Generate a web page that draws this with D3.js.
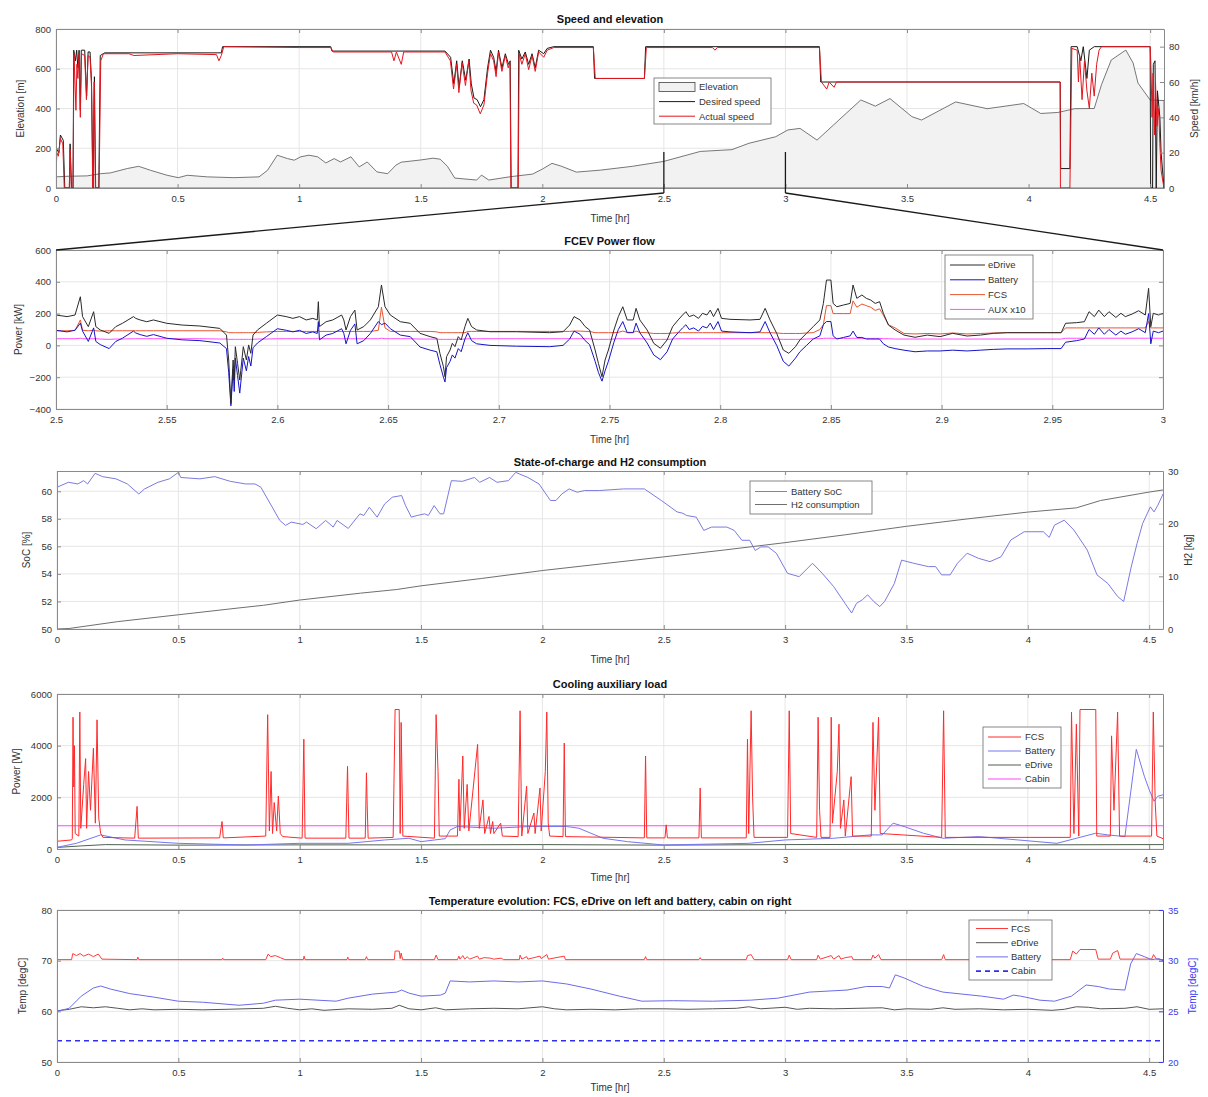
<!DOCTYPE html>
<html>
<head>
<meta charset="utf-8">
<script src="https://cdn.jsdelivr.net/npm/d3@7"></script>
<style>
  body { margin: 0; background: #fff; }
  svg { display: block; font-family: "Liberation Sans", Arial, sans-serif; }
</style>
</head>
<body>
<svg id="chart" width="1208" height="1097"></svg>
<script>
// ---------------- Data ----------------
const timeTicks = [0, 0.5, 1, 1.5, 2, 2.5, 3, 3.5, 4, 4.5];
const zoomTicks = [2.5, 2.55, 2.6, 2.65, 2.7, 2.75, 2.8, 2.85, 2.9, 2.95, 3];
const elevationTicks = [0, 200, 400, 600, 800];
const speedTicks = [0, 20, 40, 60, 80];
const powerTicks = [-400, -200, 0, 200, 400, 600];
const socTicks = [50, 52, 54, 56, 58, 60];
const h2Ticks = [0, 10, 20, 30];
const coolTicks = [0, 2000, 4000, 6000];
const tempLeftTicks = [50, 60, 70, 80];
const tempRightTicks = [20, 25, 30, 35];

// Elevation [m] along the route, [time hr, m]
const elevation = [[0,56],[0.045,59],[0.128,61],[0.183,72],[0.224,76],[0.293,98],[0.34,109],[0.389,89],[0.457,64],[0.503,52],[0.54,64],[0.622,56],[0.732,52],[0.835,56],[0.87,89],[0.91,165],[0.952,148],[0.98,140],[1.007,157],[1.04,165],[1.076,157],[1.11,126],[1.144,148],[1.17,131],[1.213,157],[1.247,106],[1.28,131],[1.32,81],[1.364,72],[1.398,115],[1.42,130],[1.5,141],[1.55,150],[1.58,145],[1.61,109],[1.64,50],[1.73,40],[1.75,65],[1.78,40],[1.87,57],[1.96,70],[2.0,95],[2.04,124],[2.08,109],[2.14,80],[2.24,90],[2.37,109],[2.5,134],[2.65,184],[2.78,193],[2.85,225],[2.96,258],[3.01,292],[3.06,300],[3.13,241],[3.22,342],[3.31,443],[3.37,412],[3.43,450],[3.52,359],[3.56,342],[3.7,433],[3.83,399],[3.98,425],[4.05,375],[4.12,380],[4.19,399],[4.27,400],[4.3,520],[4.34,644],[4.4,694],[4.43,629],[4.45,528],[4.5,443],[4.557,440]];

// Desired speed [km/h]
const desiredSpeed = [[0,0],[0.003,22],[0.012,20],[0.018,30],[0.03,27],[0.036,0],[0.055,0],[0.058,25],[0.064,0],[0.07,0],[0.073,78],[0.08,72],[0.085,78],[0.09,68],[0.095,78],[0.1,44],[0.104,78],[0.118,78],[0.126,52],[0.132,77],[0.14,77],[0.146,61],[0.152,0],[0.158,63],[0.163,0],[0.176,0],[0.182,75],[0.2,76.5],[0.68,76.5],[0.685,80],[1.13,80],[1.135,77.5],[1.6,77.5],[1.623,74],[1.636,59],[1.648,72],[1.658,57],[1.671,72],[1.685,61],[1.699,73],[1.708,59],[1.719,51],[1.732,50],[1.746,46],[1.76,50],[1.775,68],[1.787,78],[1.8,74],[1.81,66],[1.82,78],[1.834,68],[1.848,76],[1.861,70],[1.868,72],[1.872,0],[1.9,0],[1.903,78],[1.916,73],[1.93,77],[1.944,70],[1.958,76],[1.971,68],[1.985,78],[2.006,76],[2.02,79],[2.047,80],[2.21,80],[2.215,62],[2.42,62],[2.425,80],[3.14,80],[3.145,60],[4.13,60],[4.132,11],[4.17,11],[4.175,80],[4.2,80],[4.215,72],[4.225,80],[4.24,62],[4.25,78],[4.27,80],[4.5,80],[4.502,0],[4.51,0],[4.513,70],[4.52,72],[4.525,0],[4.53,55],[4.54,40],[4.545,20],[4.557,0]];

// Actual speed [km/h]
const actualSpeed = [[0,0],[0.003,20],[0.01,18],[0.018,28],[0.028,25],[0.034,0],[0.055,0],[0.058,22],[0.063,0],[0.07,0],[0.074,76],[0.078,60],[0.082,44],[0.086,70],[0.09,62],[0.095,76],[0.1,40],[0.105,76],[0.118,75],[0.125,50],[0.132,75],[0.14,74],[0.146,58],[0.151,0],[0.157,60],[0.162,0],[0.177,0],[0.184,72],[0.195,76],[0.3,76],[0.32,75],[0.5,76],[0.66,75.5],[0.67,72],[0.68,75],[0.69,80],[1.0,79.5],[1.13,79.5],[1.14,77],[1.38,77],[1.39,72],[1.4,77],[1.42,70],[1.43,77],[1.6,77],[1.622,72],[1.635,56],[1.648,70],[1.657,54],[1.67,71],[1.684,58],[1.698,72],[1.707,55],[1.718,48],[1.73,47],[1.745,42],[1.76,47],[1.775,65],[1.787,76],[1.8,72],[1.81,63],[1.82,77],[1.834,66],[1.848,75],[1.86,68],[1.867,71],[1.871,0],[1.901,0],[1.905,76],[1.916,70],[1.93,76],[1.944,67],[1.958,75],[1.971,66],[1.985,77],[2.006,74],[2.02,78],[2.047,79.5],[2.21,79.5],[2.218,62],[2.42,62],[2.428,79.5],[2.7,79.5],[2.71,78],[2.72,79.5],[3.14,79.5],[3.148,60],[3.17,56],[3.18,60],[3.2,57],[3.21,60],[4.13,60],[4.131,0],[4.17,0],[4.178,79],[4.2,78],[4.205,60],[4.21,75],[4.22,50],[4.23,72],[4.24,55],[4.25,45],[4.26,65],[4.27,52],[4.28,70],[4.29,78],[4.3,80],[4.5,80],[4.503,70],[4.508,40],[4.512,65],[4.518,30],[4.522,60],[4.528,35],[4.535,45],[4.54,25],[4.545,10],[4.557,0]];

// Power flow detail, 2.5 - 3.0 hr [kW]
const powerTime = [2.5,2.505,2.5086,2.511,2.512,2.5146,2.517,2.518,2.52,2.524,2.527,2.53,2.535,2.536,2.538,2.541,2.544,2.55,2.557,2.565,2.574,2.577,2.578,2.579,2.58,2.5805,2.581,2.582,2.583,2.5846,2.586,2.587,2.588,2.589,2.591,2.595,2.6,2.604,2.607,2.61,2.613,2.616,2.618,2.6185,2.619,2.622,2.625,2.629,2.63,2.631,2.633,2.635,2.636,2.639,2.642,2.6456,2.647,2.6486,2.651,2.6555,2.66,2.6644,2.669,2.672,2.6734,2.675,2.6757,2.6764,2.678,2.679,2.6802,2.6817,2.683,2.6847,2.686,2.6877,2.69,2.696,2.708,2.723,2.729,2.732,2.734,2.7367,2.739,2.741,2.7435,2.745,2.7466,2.748,2.7495,2.752,2.754,2.756,2.758,2.7607,2.762,2.7637,2.767,2.77,2.773,2.776,2.7785,2.781,2.783,2.7845,2.786,2.788,2.7902,2.792,2.794,2.7955,2.797,2.799,2.8006,2.8044,2.8135,2.818,2.8203,2.8225,2.8255,2.8285,2.831,2.834,2.836,2.839,2.842,2.845,2.8466,2.848,2.85,2.851,2.8527,2.8557,2.8587,2.86,2.8617,2.864,2.866,2.868,2.87,2.872,2.8737,2.876,2.879,2.883,2.888,2.8935,2.8993,2.905,2.9115,2.9175,2.9235,2.9296,2.939,2.948,2.954,2.956,2.961,2.9645,2.9666,2.969,2.971,2.9735,2.9756,2.9787,2.981,2.983,2.986,2.989,2.992,2.9935,2.9945,2.9956,2.998,3.0];
const eDrivePower = [191,181,191,306,181,118,212,118,97,76,118,139,181,170,160,149,160,139,128,122,107,65,-92,-365,-92,-218,-8,-113,-218,-8,-92,3,-50,65,97,139,191,181,170,181,160,170,160,275,118,149,160,191,160,97,181,222,97,118,160,243,380,243,191,149,139,76,55,44,-50,-134,-197,-71,-29,13,-8,55,34,118,170,118,97,86,86,80,86,128,181,160,118,97,-29,-113,-197,-92,-29,97,181,243,160,160,233,160,97,13,-18,34,118,160,191,212,181,191,170,202,191,222,181,233,170,164,160,164,233,160,76,-29,-50,-8,34,76,118,160,264,411,411,264,243,254,264,380,296,317,296,285,264,275,202,128,97,65,51,65,55,76,59,65,76,80,80,80,80,139,143,149,212,181,222,181,212,176,202,181,197,218,191,359,118,202,191,202];
const batteryPower = [95,85,95,140,90,25,110,25,5,-20,25,45,90,78,68,57,68,45,35,30,15,-20,-170,-380,-150,-290,-80,-190,-300,-80,-160,-70,-130,-15,15,55,105,95,85,95,75,85,75,150,35,65,75,105,75,10,95,135,10,30,75,150,130,140,105,65,55,-10,-30,-40,-120,-200,-230,-140,-100,-60,-80,-20,-40,40,80,30,10,0,-5,-8,0,40,90,70,30,5,-100,-170,-225,-160,-100,20,100,150,80,80,140,80,15,-60,-90,-40,40,80,110,130,100,110,90,120,110,140,100,150,90,85,80,85,150,80,0,-100,-130,-80,-40,0,40,60,130,150,150,60,40,50,60,90,50,50,40,40,40,40,10,-10,-20,-30,-40,-35,-35,-30,-35,-30,-25,-22,-22,-20,-20,20,30,40,100,70,110,70,100,65,90,70,85,105,80,200,10,90,80,90];
const fcsPower = [92,92,95,160,95,92,95,92,90,92,92,92,92,92,92,92,92,92,92,92,92,85,80,80,80,80,80,80,80,80,80,80,80,80,82,85,88,88,88,88,88,88,88,95,88,88,88,88,88,88,88,88,88,88,88,95,240,110,88,88,88,88,88,85,80,80,80,80,80,80,80,80,80,80,88,88,88,88,88,88,88,88,90,90,88,88,80,80,80,80,80,80,82,90,82,82,90,82,80,75,75,75,78,80,80,80,80,80,80,80,80,80,80,80,80,80,80,80,80,80,78,75,75,75,75,78,80,100,130,250,250,200,200,200,200,280,240,260,250,240,220,230,190,130,110,75,72,75,72,78,72,75,78,80,80,80,80,110,110,110,110,110,110,110,110,110,110,110,110,110,110,150,110,110,110,110];
const auxPower = [42,42,42,45,42,42,42,42,40,38,40,40,42,42,42,42,42,42,42,42,40,40,38,38,38,38,38,38,38,38,38,38,38,38,40,40,42,42,42,42,42,42,42,45,42,42,42,42,42,42,42,42,42,42,42,42,45,42,42,42,42,40,40,40,38,38,38,38,38,38,38,38,38,40,42,42,42,42,42,42,42,42,42,42,42,42,38,38,38,38,38,40,42,42,42,42,42,42,40,38,38,38,40,42,42,42,42,42,42,42,42,42,42,42,42,42,42,42,42,42,40,38,38,38,38,40,42,42,44,45,45,44,44,44,44,45,44,44,44,44,44,44,42,42,40,40,40,40,40,40,40,40,40,40,40,40,40,45,45,45,45,45,45,45,45,45,45,45,45,45,45,45,45,45,45,45];

// Battery state of charge [%] and cumulative H2 [kg]
const socData = [[0,60.29],[0.047,60.65],[0.086,60.53],[0.11,60.77],[0.126,60.53],[0.157,61.3],[0.188,61.06],[0.243,60.9],[0.29,60.53],[0.337,59.8],[0.361,60.17],[0.416,60.65],[0.463,60.9],[0.5,61.37],[0.51,61.0],[0.589,60.9],[0.65,61.06],[0.714,60.72],[0.777,60.53],[0.816,60.53],[0.84,60.29],[0.918,57.88],[0.942,57.52],[0.965,57.76],[1.013,57.59],[1.028,57.76],[1.068,57.28],[1.107,57.88],[1.138,57.4],[1.154,57.88],[1.2,57.3],[1.248,58.36],[1.264,58.24],[1.287,58.84],[1.319,58.12],[1.35,59.08],[1.382,59.57],[1.42,59.69],[1.436,58.96],[1.46,58.12],[1.484,58.24],[1.515,58.36],[1.53,58.24],[1.554,58.96],[1.578,58.36],[1.593,58.36],[1.625,60.77],[1.67,60.72],[1.72,61.0],[1.742,60.65],[1.782,61.0],[1.813,60.65],[1.86,60.77],[1.89,61.37],[1.94,61.0],[1.986,60.53],[2.033,59.33],[2.056,59.33],[2.08,59.8],[2.11,60.17],[2.143,59.93],[2.174,60.05],[2.234,60.05],[2.335,60.17],[2.42,60.17],[2.49,59.33],[2.555,58.5],[2.579,58.4],[2.594,58.24],[2.634,58.12],[2.665,57.16],[2.697,57.4],[2.76,57.4],[2.79,57.16],[2.822,56.44],[2.854,56.44],[2.877,55.7],[2.9,55.96],[2.93,55.96],[2.964,55.5],[3.01,54.04],[3.058,53.8],[3.113,54.77],[3.153,54.04],[3.2,53.08],[3.247,51.86],[3.274,51.16],[3.294,51.86],[3.318,52.12],[3.34,52.48],[3.365,52.0],[3.39,51.63],[3.41,52.0],[3.45,53.3],[3.48,55.0],[3.53,54.77],[3.59,54.53],[3.62,54.53],[3.645,53.93],[3.68,53.93],[3.71,54.77],[3.75,55.5],[3.797,55.13],[3.844,54.89],[3.89,55.25],[3.93,56.46],[3.985,57.06],[4.064,57.06],[4.088,56.65],[4.11,57.54],[4.15,57.9],[4.19,57.18],[4.245,55.73],[4.285,53.93],[4.33,53.3],[4.37,52.36],[4.395,52.0],[4.426,54.5],[4.45,56.2],[4.473,57.66],[4.505,58.87],[4.52,58.5],[4.536,58.99],[4.557,59.8]];
const h2Data = [[0,0],[0.05,0.1],[0.25,1.4],[0.5,2.7],[0.75,4.0],[0.85,4.5],[1.0,5.5],[1.25,6.8],[1.4,7.5],[1.5,8.2],[1.75,9.6],[2.0,11.1],[2.25,12.4],[2.5,13.7],[2.75,15.0],[3.0,16.4],[3.25,17.9],[3.5,19.5],[3.75,20.9],[4.0,22.2],[4.2,23.0],[4.3,24.4],[4.5,26.0],[4.557,26.4]];

// Cooling auxiliary loads [W]
const fcsCooling = [[0,300],[0.06,350],[0.063,400],[0.066,5100],[0.069,2400],[0.072,4000],[0.075,600],[0.09,500],[0.094,5300],[0.098,800],[0.11,2500],[0.118,3500],[0.122,800],[0.13,3000],[0.138,1500],[0.15,3900],[0.158,1000],[0.165,5000],[0.172,1200],[0.18,600],[0.19,450],[0.32,420],[0.33,1650],[0.335,420],[0.67,430],[0.68,1065],[0.685,430],[0.86,500],[0.868,5200],[0.875,700],[0.882,3000],[0.888,600],[0.895,1800],[0.905,700],[0.912,2050],[0.92,600],[0.93,480],[1.01,420],[1.017,4250],[1.022,420],[1.19,420],[1.197,3200],[1.2,1800],[1.203,420],[1.27,420],[1.275,2950],[1.278,1700],[1.282,420],[1.385,450],[1.393,5400],[1.41,5400],[1.414,600],[1.418,4900],[1.425,500],[1.555,420],[1.562,5200],[1.57,3000],[1.575,500],[1.65,500],[1.656,2700],[1.66,700],[1.672,3600],[1.678,800],[1.69,2500],[1.697,700],[1.733,4050],[1.74,800],[1.755,1900],[1.762,600],[1.78,1260],[1.786,600],[1.795,1065],[1.8,600],[1.828,1000],[1.835,500],[1.9,480],[1.908,5350],[1.915,500],[1.935,2430],[1.94,600],[1.965,1390],[1.97,600],[1.99,2360],[1.995,700],[2.012,3000],[2.018,5300],[2.024,1000],[2.03,500],[2.085,480],[2.09,4100],[2.095,480],[2.42,430],[2.425,3600],[2.43,430],[2.505,430],[2.51,935],[2.515,430],[2.645,430],[2.65,2360],[2.655,430],[2.84,430],[2.845,4250],[2.85,600],[2.86,5350],[2.866,2000],[2.872,450],[3.01,450],[3.017,5350],[3.023,600],[3.13,450],[3.136,5100],[3.142,1500],[3.148,450],[3.185,450],[3.19,5100],[3.195,1000],[3.215,3000],[3.222,4830],[3.228,800],[3.242,1900],[3.248,500],[3.272,2800],[3.278,500],[3.355,500],[3.362,4900],[3.37,1500],[3.385,5100],[3.392,600],[3.645,450],[3.653,5350],[3.66,450],[4.175,450],[4.18,5300],[4.19,600],[4.2,4830],[4.21,500],[4.215,5400],[4.28,5400],[4.284,500],[4.34,500],[4.345,4380],[4.355,1500],[4.37,5300],[4.378,500],[4.51,500],[4.517,5300],[4.525,1780],[4.532,500],[4.557,400]];
const batteryCooling = [[0,65],[0.08,220],[0.18,545],[0.28,350],[0.5,220],[0.78,155],[1.0,220],[1.2,220],[1.35,350],[1.45,415],[1.5,285],[1.6,400],[1.62,740],[1.65,870],[1.8,805],[1.95,870],[2.1,870],[2.15,805],[2.2,610],[2.25,415],[2.35,285],[2.5,155],[2.85,220],[3.0,350],[3.2,415],[3.35,545],[3.4,545],[3.445,1000],[3.49,870],[3.57,610],[3.65,415],[3.8,480],[3.96,350],[4.12,220],[4.2,415],[4.28,610],[4.33,545],[4.4,480],[4.447,3860],[4.48,2820],[4.5,2300],[4.52,1850],[4.535,2040],[4.557,2100]];
const eDriveCooling = [[0,60],[0.1,120],[0.2,170],[0.5,150],[1,160],[1.5,160],[2,170],[2.5,150],[3,170],[3.5,180],[4,160],[4.5,170],[4.557,170]];
const cabinCooling = [[0,900],[4.557,900]];

// Temperatures [degC]
const fcsTemp = [[0,70.2],[0.06,70.2],[0.065,71.4],[0.08,71.0],[0.095,71.4],[0.11,70.9],[0.13,71.3],[0.15,70.8],[0.17,71.3],[0.185,70.3],[0.33,70.2],[0.333,70.7],[0.337,70.2],[0.68,70.2],[0.683,70.5],[0.686,70.2],[0.86,70.2],[0.87,71.3],[0.88,70.8],[0.9,71.0],[0.92,70.6],[0.94,70.2],[1.015,70.2],[1.018,70.9],[1.022,70.2],[1.195,70.2],[1.198,70.7],[1.202,70.2],[1.27,70.2],[1.275,70.8],[1.28,70.2],[1.39,70.2],[1.393,71.9],[1.41,71.9],[1.414,70.4],[1.418,71.5],[1.424,70.2],[1.555,70.2],[1.562,71.1],[1.57,70.2],[1.65,70.2],[1.656,70.9],[1.66,70.3],[1.672,71.0],[1.68,70.3],[1.69,70.8],[1.7,70.3],[1.733,70.9],[1.74,70.3],[1.76,70.6],[1.785,70.5],[1.8,70.3],[1.83,70.5],[1.84,70.2],[1.905,70.2],[1.908,71.1],[1.915,70.3],[1.935,70.8],[1.94,70.3],[1.965,70.6],[1.99,70.9],[1.995,70.4],[2.018,71.2],[2.025,70.3],[2.09,70.9],[2.095,70.2],[2.42,70.2],[2.425,70.8],[2.43,70.2],[2.645,70.2],[2.65,70.6],[2.655,70.2],[2.84,70.2],[2.845,71.0],[2.86,71.2],[2.872,70.2],[3.01,70.2],[3.017,71.1],[3.025,70.2],[3.13,70.2],[3.136,71.1],[3.145,70.3],[3.19,71.0],[3.2,70.3],[3.222,71.0],[3.23,70.3],[3.248,70.6],[3.275,70.8],[3.28,70.2],[3.355,70.2],[3.362,71.1],[3.37,70.5],[3.385,71.2],[3.395,70.2],[3.645,70.2],[3.653,71.2],[3.66,70.2],[4.175,70.2],[4.185,71.9],[4.2,71.3],[4.215,72.2],[4.28,72.2],[4.29,70.3],[4.34,70.3],[4.35,71.5],[4.37,72.0],[4.38,70.3],[4.51,70.3],[4.518,71.2],[4.53,70.3],[4.557,70.2]];
const eDriveTemp = [[0,60.1],[0.05,60.4],[0.1,60.9],[0.15,60.7],[0.2,60.9],[0.25,60.6],[0.3,60.3],[0.35,60.5],[0.4,60.3],[0.5,60.4],[0.6,60.3],[0.7,60.4],[0.85,60.6],[0.9,61.0],[0.95,60.6],[1.0,60.3],[1.05,60.5],[1.1,60.2],[1.2,60.5],[1.3,60.4],[1.38,60.6],[1.41,61.2],[1.45,60.5],[1.5,60.3],[1.56,60.7],[1.6,60.3],[1.7,60.5],[1.8,60.6],[1.9,60.5],[2.0,60.9],[2.05,60.5],[2.1,60.3],[2.2,60.4],[2.3,60.3],[2.4,60.5],[2.5,60.5],[2.6,60.4],[2.7,60.5],[2.8,60.6],[2.85,60.9],[2.9,60.5],[3.0,60.8],[3.05,60.4],[3.1,60.6],[3.2,60.5],[3.3,60.6],[3.4,60.7],[3.45,60.3],[3.5,60.5],[3.6,60.4],[3.65,60.7],[3.7,60.4],[3.8,60.5],[3.9,60.3],[4.0,60.4],[4.1,60.2],[4.15,60.4],[4.2,60.9],[4.25,60.8],[4.3,60.5],[4.4,60.6],[4.45,60.9],[4.5,60.4],[4.557,60.5]];
const batteryTemp = [[0,25.0],[0.05,25.3],[0.1,26.5],[0.15,27.3],[0.18,27.5],[0.22,27.2],[0.3,26.75],[0.4,26.4],[0.5,26.0],[0.6,25.9],[0.75,25.6],[0.85,25.8],[0.9,26.1],[1.0,26.2],[1.15,26.0],[1.2,26.3],[1.3,26.7],[1.4,26.9],[1.42,27.1],[1.45,26.8],[1.5,26.5],[1.58,26.6],[1.6,26.8],[1.62,28.0],[1.7,27.9],[1.8,28.0],[1.9,27.9],[2.0,28.0],[2.1,27.7],[2.2,27.2],[2.317,26.5],[2.41,26.0],[2.54,26.05],[2.7,26.0],[2.857,26.1],[2.97,26.3],[3.1,26.9],[3.255,27.1],[3.335,27.45],[3.4,27.45],[3.43,27.3],[3.454,28.6],[3.49,28.3],[3.57,27.45],[3.65,26.9],[3.81,26.5],[3.9,26.2],[3.94,26.6],[3.97,26.5],[4.05,26.1],[4.11,26.0],[4.18,26.5],[4.24,27.6],[4.29,27.45],[4.336,27.2],[4.4,27.1],[4.424,29.7],[4.447,30.7],[4.48,30.4],[4.51,30.1],[4.54,30.2],[4.557,30.0]];
const cabinTemp = [[0,22.1],[4.557,22.1]];

const zoomWindow = [2.5, 3.0];

// ---------------- Drawing ----------------
const svg = d3.select('#chart');
const defs = svg.append('defs');
const FONT_TICK = 9.5;
const TEXT = '#333';
const AXIS = '#8a8a8a';
const GRID = '#e6e6e6';

function panel(o) {
  const g = svg.append('g');
  const x = d3.scaleLinear().domain(o.xDomain).range([o.left, o.right]);
  const y = d3.scaleLinear().domain(o.yDomain).range([o.bottom, o.top]);
  const y2 = o.y2Domain ? d3.scaleLinear().domain(o.y2Domain).range([o.bottom, o.top]) : null;

  // grid
  const grid = g.append('g').attr('stroke', GRID).attr('stroke-width', 1);
  grid.selectAll('.gx').data(o.xTicks).join('line')
    .attr('x1', d => x(d)).attr('x2', d => x(d)).attr('y1', o.top).attr('y2', o.bottom);
  grid.selectAll('.gy').data(o.yTicks).join('line')
    .attr('x1', o.left).attr('x2', o.right).attr('y1', d => y(d)).attr('y2', d => y(d));

  // clip
  defs.append('clipPath').attr('id', 'clip-' + o.id)
    .append('rect').attr('x', o.left).attr('y', o.top)
    .attr('width', o.right - o.left).attr('height', o.bottom - o.top);
  const plot = g.append('g').attr('clip-path', `url(#clip-${o.id})`);

  const axes = svg.append('g'); // drawn on top of data
  function styleAxis(sel, color) {
    sel.selectAll('.domain').attr('stroke', color || AXIS);
    sel.selectAll('.tick line').attr('stroke', color || AXIS);
    sel.selectAll('.tick text').attr('fill', color || TEXT).attr('font-size', FONT_TICK)
      .attr('font-family', '"Liberation Sans", Arial, sans-serif');
  }
  const fmt = d3.format('~g');
  const bx = axes.append('g').attr('transform', `translate(0,${o.bottom})`)
    .call(d3.axisBottom(x).tickValues(o.xTicks).tickFormat(fmt).tickSizeInner(-4).tickSizeOuter(0).tickPadding(7));
  styleAxis(bx);
  const tx = axes.append('g').attr('transform', `translate(0,${o.top})`)
    .call(d3.axisTop(x).tickValues(o.xTicks).tickFormat('').tickSizeInner(-4).tickSizeOuter(0));
  styleAxis(tx);
  const ly = axes.append('g').attr('transform', `translate(${o.left},0)`)
    .call(d3.axisLeft(y).tickValues(o.yTicks).tickFormat(fmt).tickSizeInner(-4).tickSizeOuter(0).tickPadding(5));
  styleAxis(ly);
  if (y2) {
    const ry = axes.append('g').attr('transform', `translate(${o.right},0)`)
      .call(d3.axisRight(y2).tickValues(o.y2Ticks).tickFormat(fmt).tickSizeInner(-4).tickSizeOuter(0).tickPadding(5));
    styleAxis(ry, o.y2Color);
  } else {
    const ry = axes.append('g').attr('transform', `translate(${o.right},0)`)
      .call(d3.axisRight(y).tickValues(o.yTicks).tickFormat('').tickSizeInner(-4).tickSizeOuter(0));
    styleAxis(ry);
  }

  // title and labels
  axes.append('text').attr('x', (o.left + o.right) / 2).attr('y', o.titleY)
    .attr('text-anchor', 'middle').attr('font-size', 11).attr('font-weight', 'bold')
    .attr('fill', '#111').text(o.title);
  axes.append('text').attr('x', (o.left + o.right) / 2).attr('y', o.xLabelY)
    .attr('text-anchor', 'middle').attr('font-size', 10).attr('fill', TEXT).text('Time [hr]');
  axes.append('text').attr('transform', `translate(${o.yLabelX},${(o.top + o.bottom) / 2}) rotate(-90)`)
    .attr('text-anchor', 'middle').attr('font-size', 10).attr('fill', TEXT).text(o.yLabel);
  if (o.y2Label) {
    axes.append('text').attr('transform', `translate(${o.y2LabelX},${(o.top + o.bottom) / 2}) rotate(-90)`)
      .attr('text-anchor', 'middle').attr('font-size', 10).attr('fill', o.y2Color || TEXT).text(o.y2Label);
  }
  return { g, plot, axes, x, y, y2, o };
}

function drawLine(p, data, scaleY, color, width, dash) {
  const line = d3.line().x(d => p.x(d[0])).y(d => scaleY(d[1]));
  const path = p.plot.append('path').datum(data).attr('d', line)
    .attr('fill', 'none').attr('stroke', color).attr('stroke-width', width || 1)
    .attr('stroke-linejoin', 'round');
  if (dash) path.attr('stroke-dasharray', dash);
  return path;
}

function legend(p, box, items) {
  const lg = p.axes.append('g');
  lg.append('rect').attr('x', box.x).attr('y', box.y).attr('width', box.w).attr('height', box.h)
    .attr('fill', '#fff').attr('stroke', '#6a6a6a').attr('stroke-width', 0.8);
  items.forEach((it, i) => {
    const cy = box.row0 + i * box.step;
    if (it.patch) {
      lg.append('rect').attr('x', box.lx1).attr('y', cy - 4.5).attr('width', box.lx2 - box.lx1).attr('height', 9)
        .attr('fill', '#f1f1f1').attr('stroke', '#444').attr('stroke-width', 0.8);
    } else {
      const l = lg.append('line').attr('x1', box.lx1).attr('x2', box.lx2).attr('y1', cy).attr('y2', cy)
        .attr('stroke', it.color).attr('stroke-width', it.width || 1);
      if (it.dash) l.attr('stroke-dasharray', it.dash);
    }
    lg.append('text').attr('x', box.tx).attr('y', cy).attr('dy', '0.35em')
      .attr('font-size', 9.5).attr('fill', TEXT).text(it.label);
  });
}

// Panel 1: speed and elevation
const p1 = panel({
  id: 'speed', left: 56, right: 1164, top: 29, bottom: 188,
  xDomain: [0, 4.557], yDomain: [0, 800], y2Domain: [0, 90],
  xTicks: timeTicks, yTicks: elevationTicks, y2Ticks: speedTicks,
  title: 'Speed and elevation', titleY: 23, xLabelY: 222,
  yLabel: 'Elevation [m]', yLabelX: 24, y2Label: 'Speed [km/h]', y2LabelX: 1198
});
p1.plot.append('path').datum(elevation)
  .attr('d', d3.area().x(d => p1.x(d[0])).y0(p1.y(0)).y1(d => p1.y(d[1])))
  .attr('fill', '#f2f2f2').attr('stroke', '#555').attr('stroke-width', 0.8);
drawLine(p1, desiredSpeed, p1.y2, '#1a1a1a', 1);
drawLine(p1, actualSpeed, p1.y2, '#e3161e', 1);
legend(p1, { x: 654, y: 78, w: 117, h: 46, row0: 87, step: 14.6, lx1: 659, lx2: 695, tx: 699 }, [
  { label: 'Elevation', patch: true },
  { label: 'Desired speed', color: '#1a1a1a' },
  { label: 'Actual speed', color: '#e3161e' }
]);

// Panel 2: FCEV power flow (zoomed window)
const p2 = panel({
  id: 'power', left: 56, right: 1163, top: 250, bottom: 409,
  xDomain: zoomWindow, yDomain: [-400, 600],
  xTicks: zoomTicks, yTicks: powerTicks,
  title: 'FCEV Power flow', titleY: 245, xLabelY: 443,
  yLabel: 'Power [kW]', yLabelX: 22
});
const zipPower = vals => powerTime.map((t, i) => [t, vals[i]]);
drawLine(p2, zipPower(auxPower), p2.y, '#ff4dff', 1);
drawLine(p2, zipPower(fcsPower), p2.y, '#e8552f', 1);
drawLine(p2, zipPower(batteryPower), p2.y, '#1515c8', 1);
drawLine(p2, zipPower(eDrivePower), p2.y, '#2a2a2a', 1);
legend(p2, { x: 945, y: 255, w: 88, h: 64, row0: 265, step: 14.8, lx1: 950, lx2: 985, tx: 988 }, [
  { label: 'eDrive', color: '#2a2a2a' },
  { label: 'Battery', color: '#1515c8' },
  { label: 'FCS', color: '#e8552f' },
  { label: 'AUX x10', color: '#ff4dff' }
]);

// Zoom connectors between panel 1 and panel 2
const conn = svg.append('g').attr('stroke', '#1a1a1a').attr('stroke-width', 1.3).attr('fill', 'none');
const zx0 = p1.x(zoomWindow[0]), zx1 = p1.x(zoomWindow[1]);
conn.append('line').attr('x1', zx0).attr('x2', zx0).attr('y1', 152).attr('y2', 193);
conn.append('line').attr('x1', zx1).attr('x2', zx1).attr('y1', 152).attr('y2', 193);
conn.append('line').attr('x1', zx0).attr('y1', 193).attr('x2', p2.x(zoomWindow[0])).attr('y2', 250);
conn.append('line').attr('x1', zx1).attr('y1', 193).attr('x2', p2.x(zoomWindow[1])).attr('y2', 250);

// Panel 3: state of charge and H2 consumption
const p3 = panel({
  id: 'soc', left: 57, right: 1163, top: 471, bottom: 629,
  xDomain: [0, 4.557], yDomain: [50, 61.47], y2Domain: [0, 30],
  xTicks: timeTicks, yTicks: socTicks, y2Ticks: h2Ticks,
  title: 'State-of-charge and H2 consumption', titleY: 466, xLabelY: 663,
  yLabel: 'SoC [%]', yLabelX: 30, y2Label: 'H2 [kg]', y2LabelX: 1192
});
drawLine(p3, h2Data, p3.y2, '#6f6f6f', 1);
drawLine(p3, socData, p3.y, '#7b7be0', 1);
legend(p3, { x: 750, y: 481, w: 122, h: 33, row0: 491.5, step: 13, lx1: 755, lx2: 787, tx: 791 }, [
  { label: 'Battery SoC', color: '#7b7be0' },
  { label: 'H2 consumption', color: '#6f6f6f' }
]);

// Panel 4: cooling auxiliary load
const p4 = panel({
  id: 'cool', left: 57, right: 1163, top: 694, bottom: 849,
  xDomain: [0, 4.557], yDomain: [0, 6000],
  xTicks: timeTicks, yTicks: coolTicks,
  title: 'Cooling auxiliary load', titleY: 688, xLabelY: 881,
  yLabel: 'Power [W]', yLabelX: 20
});
drawLine(p4, eDriveCooling, p4.y, '#4f5f4f', 1);
drawLine(p4, cabinCooling, p4.y, '#ff45ff', 1);
drawLine(p4, batteryCooling, p4.y, '#7676f0', 1);
drawLine(p4, fcsCooling, p4.y, '#ff2a2a', 1);
legend(p4, { x: 983, y: 727, w: 78, h: 61, row0: 737, step: 14, lx1: 988, lx2: 1021, tx: 1025 }, [
  { label: 'FCS', color: '#ff2a2a' },
  { label: 'Battery', color: '#7676f0' },
  { label: 'eDrive', color: '#4f5f4f' },
  { label: 'Cabin', color: '#ff45ff' }
]);

// Panel 5: temperature evolution
const BLUE_AXIS = '#3a3af0';
const p5 = panel({
  id: 'temp', left: 57, right: 1163, top: 910, bottom: 1062,
  xDomain: [0, 4.557], yDomain: [50, 80], y2Domain: [20, 35],
  xTicks: timeTicks, yTicks: tempLeftTicks, y2Ticks: tempRightTicks, y2Color: BLUE_AXIS,
  title: 'Temperature evolution: FCS, eDrive on left and battery, cabin on right', titleY: 905, xLabelY: 1091,
  yLabel: 'Temp [degC]', yLabelX: 26, y2Label: 'Temp [degC]', y2LabelX: 1196
});
drawLine(p5, eDriveTemp, p5.y, '#555', 1);
drawLine(p5, fcsTemp, p5.y, '#ff3b3b', 1);
drawLine(p5, batteryTemp, p5.y2, '#6b6bea', 1);
drawLine(p5, cabinTemp, p5.y2, '#3030f0', 1.6, '5,4');
legend(p5, { x: 969, y: 920, w: 83, h: 60, row0: 928.5, step: 14.2, lx1: 976, lx2: 1008, tx: 1011 }, [
  { label: 'FCS', color: '#ff3b3b' },
  { label: 'eDrive', color: '#555' },
  { label: 'Battery', color: '#6b6bea' },
  { label: 'Cabin', color: '#3030f0', width: 1.6, dash: '5,4' }
]);
</script>
</body>
</html>
